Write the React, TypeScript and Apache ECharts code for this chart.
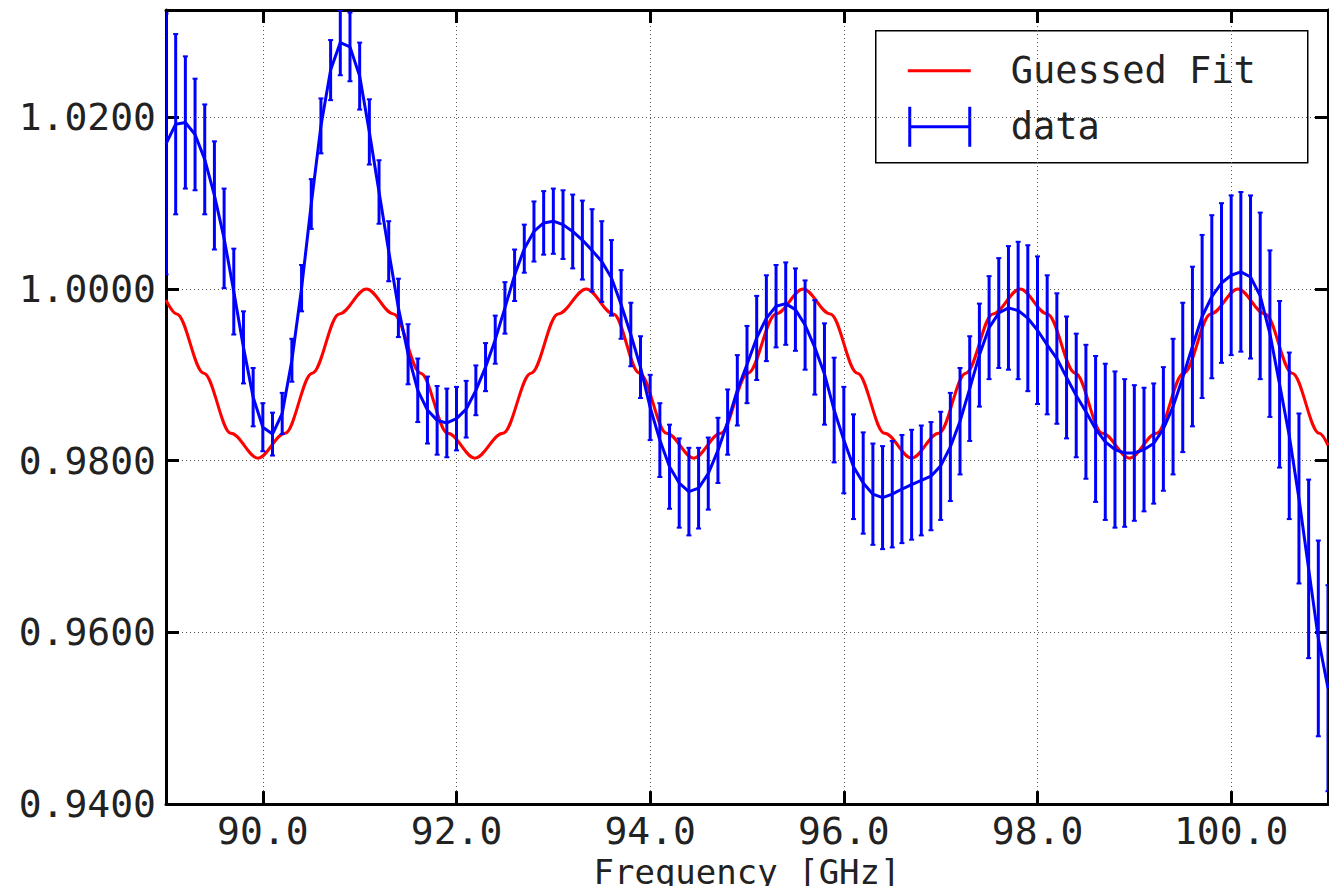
import React, { useEffect, useRef } from "react";
import * as echarts from "echarts";

// measured data, 89.0 .. 101.0 GHz in 0.1 steps
const freqStart = 89.0;
const freqStep = 0.1;
const dataValues = [
  1.0169, 1.0192, 1.0194, 1.018, 1.0151, 1.0109, 1.0059, 0.9997, 0.9932, 0.9874,
  0.9839, 0.9831, 0.9855, 0.9917, 1.0001, 1.0099, 1.019, 1.0255, 1.0287, 1.0282,
  1.0248, 1.0183, 1.0113, 1.0044, 0.9978, 0.9924, 0.9882, 0.9859, 0.9847, 0.9844,
  0.9849, 0.986, 0.9882, 0.9909, 0.9941, 0.9978, 1.0016, 1.0047, 1.0067, 1.0077,
  1.0079, 1.0075, 1.0067, 1.0057, 1.0045, 1.0032, 1.0013, 0.9982, 0.9947, 0.9909,
  0.9862, 0.9824, 0.9793, 0.9774, 0.9764, 0.9768, 0.9785, 0.9812, 0.9845, 0.9882,
  0.9912, 0.9943, 0.9966, 0.998, 0.9983, 0.9976, 0.9958, 0.9932, 0.9901, 0.9859,
  0.9824, 0.9793, 0.9774, 0.9761, 0.9757, 0.9761, 0.9767, 0.9772, 0.9777, 0.9782,
  0.9794, 0.9816, 0.9846, 0.9884, 0.9923, 0.9955, 0.9972, 0.9978, 0.9975, 0.9966,
  0.9952, 0.9935, 0.9919, 0.9897, 0.9876, 0.9857, 0.9837, 0.9822, 0.9813, 0.9809,
  0.9809, 0.9813, 0.982, 0.9837, 0.9863, 0.9897, 0.9933, 0.9968, 0.9991, 1.0007,
  1.0016, 1.002, 1.0014, 0.9992, 0.9948, 0.9889, 0.9829, 0.9756, 0.9674, 0.9593,
  0.9535,
];
const dataErrors = [
  0.0152, 0.0105, 0.0077, 0.0065, 0.0064, 0.0063, 0.0058, 0.005, 0.0042, 0.0034,
  0.0028, 0.0025, 0.0024, 0.0025, 0.0027, 0.0029, 0.0032, 0.0035, 0.0038, 0.004,
  0.0039, 0.0038, 0.0037, 0.0035, 0.0034, 0.0035, 0.0037, 0.0039, 0.004, 0.004,
  0.0037, 0.0033, 0.0029, 0.0028, 0.0028, 0.003, 0.003, 0.0028, 0.0035, 0.0037,
  0.0038, 0.004, 0.0043, 0.0046, 0.0048, 0.0047, 0.0044, 0.004, 0.0037, 0.0036,
  0.0038, 0.0043, 0.0049, 0.0052, 0.0051, 0.0047, 0.0042, 0.0038, 0.0038, 0.0041,
  0.0045, 0.0049, 0.005, 0.0048, 0.0048, 0.0048, 0.0052, 0.0055, 0.0059, 0.0061,
  0.0062, 0.0061, 0.0059, 0.0059, 0.006, 0.0062, 0.0063, 0.0064, 0.0064, 0.0063,
  0.0063, 0.0063, 0.0062, 0.0061, 0.006, 0.006, 0.0064, 0.0072, 0.008, 0.0085,
  0.0086, 0.0081, 0.0076, 0.0071, 0.0072, 0.0078, 0.0085, 0.0091, 0.0091, 0.0086,
  0.0079, 0.0072, 0.007, 0.0072, 0.0079, 0.0087, 0.0093, 0.0095, 0.0095, 0.0093,
  0.0093, 0.0093, 0.0095, 0.0097, 0.0097, 0.0097, 0.0097, 0.0099, 0.0104, 0.0114,
  0.012,
];

// guessed fit
const fitFreq = [
  89.0, 89.11, 89.39, 89.67, 89.95, 90.23, 90.51, 90.79, 91.07, 91.35, 91.63, 91.91,
  92.19, 92.48, 92.77, 93.05, 93.34, 93.62, 93.89, 94.17, 94.45, 94.73, 95.01, 95.3,
  95.58, 95.86, 96.14, 96.42, 96.7, 96.98, 97.26, 97.54, 97.82, 98.1, 98.39, 98.67,
  98.95, 99.23, 99.51, 99.79, 100.07, 100.35, 100.63, 100.91, 101.0,
];
const fitValues = [
  0.9987, 0.9971, 0.9902, 0.9832, 0.9803, 0.9832, 0.9902, 0.9971, 1.0, 0.9971, 0.9902, 0.9832,
  0.9803, 0.9832, 0.9902, 0.9971, 1.0, 0.9971, 0.9902, 0.9832, 0.9803, 0.9832, 0.9902, 0.9971,
  1.0, 0.9971, 0.9902, 0.9832, 0.9803, 0.9832, 0.9902, 0.9971, 1.0, 0.9971, 0.9902, 0.9832,
  0.9803, 0.9832, 0.9902, 0.9971, 1.0, 0.9971, 0.9902, 0.9832, 0.9818,
];

const xTicks = [90, 92, 94, 96, 98, 100];

const FONT = "DejaVu Sans Mono";

const App: React.FC = () => {
  const chartRef = useRef<HTMLDivElement>(null);

  useEffect(() => {
    if (!chartRef.current) return;
    const chart = echarts.init(chartRef.current, null, { renderer: "svg" });

    const freqs = dataValues.map((_, i) => +(freqStart + i * freqStep).toFixed(1));
    const lineData = dataValues.map((v, i) => [freqs[i], v]);
    const barData = dataValues.map((v, i) => [freqs[i], v - dataErrors[i], v + dataErrors[i]]);
    const fitData = fitValues.map((v, i) => [fitFreq[i], v]);

    const tickStyle = { inside: true, length: 13, lineStyle: { color: "#000", width: 3 } };
    const gridLine = { show: true, lineStyle: { color: "#555", type: [1, 3] as any, width: 1 } };
    const labelStyle = { fontFamily: FONT, fontSize: 38, color: "#222" };

    const option: any = {
      animation: false,
      grid: { left: 166, right: 9, top: 10, bottom: 84 },
      xAxis: [
        {
          type: "value",
          min: 89,
          max: 101,
          axisLine: { lineStyle: { color: "#000", width: 3 } },
          axisTick: { ...tickStyle, customValues: xTicks },
          axisLabel: {
            ...labelStyle,
            customValues: xTicks,
            margin: 8,
            formatter: (v: number) => v.toFixed(1),
          },
          splitLine: gridLine,
          name: "Frequency [GHz]",
          nameLocation: "middle",
          nameGap: 38,
          nameTextStyle: { fontFamily: FONT, fontSize: 34, color: "#222" },
        },
        {
          type: "value",
          position: "top",
          min: 89,
          max: 101,
          axisLine: { show: true, lineStyle: { color: "#000", width: 3 } },
          axisTick: { ...tickStyle, customValues: xTicks },
          axisLabel: { show: false },
          splitLine: { show: false },
        },
      ],
      yAxis: [
        {
          type: "value",
          min: 0.94,
          max: 1.0325,
          interval: 0.02,
          axisLine: { show: true, lineStyle: { color: "#000", width: 3 } },
          axisTick: tickStyle,
          axisLabel: {
            ...labelStyle,
            margin: 10,
            showMaxLabel: false,
            formatter: (v: number) => v.toFixed(4),
          },
          splitLine: gridLine,
        },
        {
          type: "value",
          position: "right",
          min: 0.94,
          max: 1.0325,
          interval: 0.02,
          axisLine: { show: true, lineStyle: { color: "#000", width: 3 } },
          axisTick: tickStyle,
          axisLabel: { show: false },
          splitLine: { show: false },
        },
      ],
      series: [
        {
          name: "Guessed Fit",
          type: "line",
          data: fitData,
          smooth: 0.35,
          smoothMonotone: "x",
          symbol: "none",
          lineStyle: { color: "#ff0000", width: 3 },
          z: 3,
        },
        {
          name: "data",
          type: "line",
          data: lineData,
          symbol: "none",
          lineStyle: { color: "#0000ff", width: 3 },
          z: 4,
        },
        {
          name: "errors",
          type: "custom",
          clip: true,
          data: barData,
          z: 4,
          renderItem: (params: any, api: any) => {
            const x = api.value(0);
            const lo = api.coord([x, api.value(1)]);
            const hi = api.coord([x, api.value(2)]);
            const style = { stroke: "#0000ff", lineWidth: 3 };
            const cap = 2.5;
            return {
              type: "group",
              children: [
                { type: "line", shape: { x1: lo[0], y1: lo[1], x2: hi[0], y2: hi[1] }, style },
                { type: "line", shape: { x1: lo[0] - cap, y1: lo[1], x2: lo[0] + cap, y2: lo[1] }, style: { ...style, lineWidth: 2 } },
                { type: "line", shape: { x1: hi[0] - cap, y1: hi[1], x2: hi[0] + cap, y2: hi[1] }, style: { ...style, lineWidth: 2 } },
              ],
            };
          },
        },
      ],
      graphic: [
        {
          type: "group",
          left: 875,
          top: 30,
          z: 10,
          children: [
            { type: "rect", shape: { x: 0, y: 0, width: 432, height: 132 }, style: { fill: "#fff", stroke: "#000", lineWidth: 1.5 } },
            { type: "line", shape: { x1: 32, y1: 40, x2: 95, y2: 40 }, style: { stroke: "#ff0000", lineWidth: 3 } },
            { type: "text", x: 135, y: 40, style: { text: "Guessed Fit", font: `37px "${FONT}"`, fill: "#222", verticalAlign: "middle" } },
            { type: "line", shape: { x1: 34, y1: 96, x2: 94, y2: 96 }, style: { stroke: "#0000ff", lineWidth: 3 } },
            { type: "line", shape: { x1: 34, y1: 76, x2: 34, y2: 116 }, style: { stroke: "#0000ff", lineWidth: 3 } },
            { type: "line", shape: { x1: 94, y1: 76, x2: 94, y2: 116 }, style: { stroke: "#0000ff", lineWidth: 3 } },
            { type: "text", x: 135, y: 96, style: { text: "data", font: `37px "${FONT}"`, fill: "#222", verticalAlign: "middle" } },
          ],
        },
      ],
    };

    chart.setOption(option);
    return () => chart.dispose();
  }, []);

  return <div ref={chartRef} style={{ width: 1337, height: 894, margin: -8 }} />;
};

export default App;
